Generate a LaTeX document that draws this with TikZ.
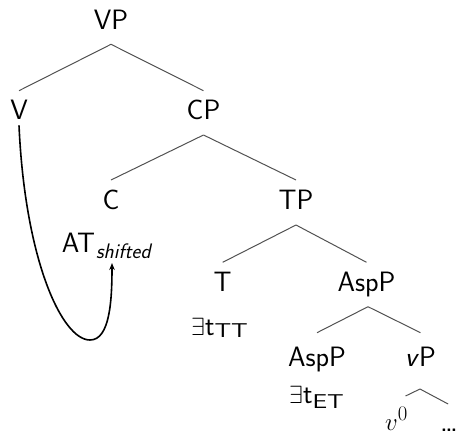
\documentclass[tikz,border=0pt]{standalone}
\usepackage{graphicx}
\usetikzlibrary{arrows.meta}
\newcommand{\subfont}{\fontsize{20}{24}\selectfont}
\newcommand{\lowsub}[2]{\raisebox{-#1}{\subfont\scalebox{1.3}[1]{#2}}}
\begin{document}
\begin{tikzpicture}[x=1pt,y=-1pt,
  lbl/.style={font=\fontsize{28}{34}\selectfont\sffamily, inner sep=0pt, anchor=base},
  lblw/.style={lbl, anchor=base west},
  edge/.style={draw=black!68, line width=1pt},
  mv/.style={draw=black, line width=1.6pt, -{Stealth[length=7pt,width=5.5pt]}}]
\useasboundingbox (0,0) rectangle (457,434);
% nodes
\node[lbl] (VP) at (111,29.3) {VP};
\node[lbl] (V) at (19,119.3) {V};
\node[lbl] (CP) at (203.5,119.3) {CP};
\node[lbl] (C) at (111,209.3) {C};
\node[lbl] (TP) at (296,209.3) {TP};
\node[lblw] (AT) at (61.7,252.3) {AT\kern1pt\raisebox{-6pt}{\fontsize{21}{24}\selectfont\itshape shifted}};
\node[lbl] (T) at (222.7,291.7) {T};
\node[lbl] (AspP) at (366.5,291.7) {AspP};
\node[lblw] (ETT) at (191,335) {$\exists$t\lowsub{2.5pt}{TT}};
\node[lbl] (AspP2) at (317,366) {AspP};
\node[lbl] (vP) at (420.5,366) {\textit{v}P};
\node[lblw] (EET) at (289,403.5) {$\exists$t\lowsub{5pt}{ET}};
\node[lblw] (v0) at (385,430) {$v^0$};
\node[lblw] (dots) at (441,431) {\fontsize{19}{20}\selectfont\bfseries .\kern-0.8pt.\kern-0.8pt.};
% edges
\draw[edge] ([yshift=-15pt]VP.base) -- ([yshift=28.6pt]V.base);
\draw[edge] ([yshift=-15pt]VP.base) -- ([yshift=28.6pt]CP.base);
\draw[edge] ([yshift=-15.7pt]CP.base) -- ([yshift=29.3pt]C.base);
\draw[edge] ([yshift=-15.7pt]CP.base) -- ([yshift=29.3pt]TP.base);
\draw[edge] ([yshift=-15.7pt]TP.base) -- ([yshift=29.4pt]T.base);
\draw[edge] ([yshift=-15.7pt]TP.base) -- ([yshift=29.4pt]AspP.base);
\draw[edge] ([xshift=1.5pt,yshift=-15pt]AspP.base) -- ([yshift=33.3pt]AspP2.base);
\draw[edge] ([xshift=1.5pt,yshift=-15pt]AspP.base) -- ([yshift=33.3pt]vP.base);
\draw[edge] ([xshift=-0.5pt,yshift=-23pt]vP.base) -- ([xshift=9pt,yshift=34pt]v0.base);
\draw[edge] ([xshift=-0.5pt,yshift=-23pt]vP.base) -- ([xshift=-1pt,yshift=27pt]dots.base);
% movement arrow
\coordinate (bot) at (90,340);
\coordinate (tip) at (112,263);
\draw[mv] ([yshift=-6pt]V.base) .. controls (25,260) and (62,340) .. (bot)
  .. controls (110,340) and (112,300) .. (tip);
\end{tikzpicture}
\end{document}
